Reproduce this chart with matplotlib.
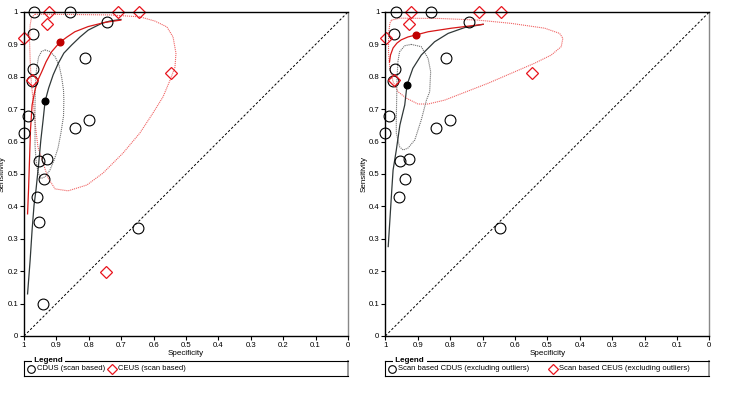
#!/usr/bin/env python3
import matplotlib
matplotlib.use('Agg')
import matplotlib.pyplot as plt

plt.rcParams['font.family'] = ['Liberation Sans', 'DejaVu Sans']

# ---- study estimates (specificity, sensitivity) ----
cdus_spec = [0.968, 0.858, 0.743, 0.972, 0.812, 0.971, 0.975, 0.988, 1.000,
             0.843, 0.800, 0.954, 0.928, 0.939, 0.959, 0.954, 0.647, 0.940]
cdus_sens = [1.000, 1.000, 0.970, 0.931, 0.857, 0.823, 0.788, 0.678, 0.626,
             0.641, 0.667, 0.540, 0.545, 0.484, 0.429, 0.351, 0.334, 0.100]
cdus_outlier = [False] * 15 + [True, False, True]

ceus_spec = [0.922, 0.711, 0.644, 0.928, 0.999, 0.974, 0.547, 0.748]
ceus_sens = [1.000, 1.000, 1.000, 0.963, 0.919, 0.790, 0.813, 0.198]
ceus_outlier = [False] * 7 + [True]

# ---- summary points ----
sum_all = {'cdus': (0.935, 0.724), 'ceus': (0.890, 0.906)}
sum_excl = {'cdus': (0.933, 0.775), 'ceus': (0.906, 0.929)}

# ---- SROC curves, all studies ----
sroc_cdus_all_spec = [0.989, 0.981, 0.975, 0.969, 0.963, 0.955, 0.948, 0.941, 0.935, 0.924,
                      0.910, 0.894, 0.877, 0.853, 0.827, 0.802, 0.760, 0.735, 0.701]
sroc_cdus_all_sens = [0.130, 0.235, 0.327, 0.404, 0.451, 0.528, 0.605, 0.667, 0.724, 0.765,
                      0.806, 0.842, 0.873, 0.898, 0.923, 0.944, 0.965, 0.972, 0.977]
sroc_ceus_all_spec = [0.989, 0.986, 0.983, 0.980, 0.975, 0.966, 0.957, 0.945, 0.932, 0.915,
                      0.890, 0.867, 0.843, 0.802, 0.750, 0.701]
sroc_ceus_all_sens = [0.377, 0.451, 0.543, 0.636, 0.713, 0.759, 0.790, 0.816, 0.846, 0.877,
                      0.906, 0.923, 0.939, 0.955, 0.968, 0.975]

# ---- 95% confidence regions, all studies ----
reg_ceus_all_spec = [0.966, 0.920, 0.827, 0.735, 0.642, 0.596, 0.559, 0.540, 0.531, 0.534,
                     0.549, 0.571, 0.602, 0.642, 0.694, 0.756, 0.806, 0.864, 0.904, 0.926,
                     0.941, 0.957, 0.965, 0.972, 0.978, 0.981, 0.983, 0.981, 0.977]
reg_ceus_all_sens = [0.993, 0.993, 0.992, 0.991, 0.985, 0.972, 0.954, 0.923, 0.873, 0.830,
                     0.790, 0.738, 0.688, 0.627, 0.565, 0.503, 0.466, 0.448, 0.454, 0.488,
                     0.534, 0.583, 0.651, 0.728, 0.790, 0.852, 0.914, 0.960, 0.983]
reg_cdus_all_spec = [0.935, 0.920, 0.904, 0.892, 0.884, 0.878, 0.877, 0.878, 0.886, 0.895,
                     0.907, 0.920, 0.935, 0.948, 0.957, 0.963, 0.966, 0.966, 0.966, 0.965,
                     0.961, 0.955, 0.946]
reg_cdus_all_sens = [0.883, 0.878, 0.862, 0.836, 0.800, 0.759, 0.728, 0.679, 0.627, 0.580,
                     0.543, 0.512, 0.491, 0.486, 0.506, 0.543, 0.590, 0.651, 0.713, 0.775,
                     0.827, 0.861, 0.878]

# ---- SROC curves, excluding outliers ----
sroc_cdus_ex_spec = [0.991, 0.980, 0.976, 0.966, 0.955, 0.940, 0.933, 0.915, 0.889, 0.848,
                     0.806, 0.755, 0.698]
sroc_cdus_ex_sens = [0.276, 0.451, 0.512, 0.574, 0.651, 0.713, 0.775, 0.826, 0.867, 0.908,
                     0.934, 0.952, 0.962]
sroc_ceus_ex_spec = [0.987, 0.984, 0.976, 0.964, 0.951, 0.930, 0.906, 0.868, 0.796, 0.714, 0.698]
sroc_ceus_ex_sens = [0.846, 0.867, 0.889, 0.904, 0.914, 0.923, 0.929, 0.939, 0.950, 0.960, 0.962]

# ---- 95% confidence regions, excluding outliers ----
reg_ceus_ex_spec = [0.981, 0.955, 0.831, 0.714, 0.612, 0.508, 0.462, 0.452, 0.457, 0.488,
                    0.539, 0.611, 0.683, 0.755, 0.817, 0.868, 0.899, 0.935, 0.961, 0.976,
                    0.986, 0.990, 0.990, 0.986]
reg_ceus_ex_sens = [0.975, 0.981, 0.980, 0.975, 0.965, 0.950, 0.934, 0.919, 0.893, 0.867,
                    0.842, 0.811, 0.780, 0.752, 0.728, 0.716, 0.716, 0.734, 0.754, 0.785,
                    0.826, 0.877, 0.929, 0.965]
reg_cdus_ex_spec = [0.920, 0.889, 0.868, 0.860, 0.863, 0.873, 0.889, 0.909, 0.930, 0.945,
                    0.956, 0.966, 0.966, 0.965, 0.964, 0.961, 0.956, 0.940]
reg_cdus_ex_sens = [0.900, 0.893, 0.857, 0.816, 0.754, 0.728, 0.667, 0.605, 0.580, 0.574,
                    0.584, 0.626, 0.667, 0.728, 0.790, 0.847, 0.877, 0.896]

ticks = [1.0, 0.9, 0.8, 0.7, 0.6, 0.5, 0.4, 0.3, 0.2, 0.1, 0.0]
tick_labels = ['1', '0.9', '0.8', '0.7', '0.6', '0.5', '0.4', '0.3', '0.2', '0.1', '0']

RED = '#e8141c'
RED_LIGHT = '#f06464'
GREY = '#707070'

W, H = 729, 401


def pix_box(x0, y0, w, h):
    return [x0 / W, 1 - (y0 + h) / H, w / W, h / H]


def closed(xs, ys):
    return list(xs) + [xs[0]], list(ys) + [ys[0]]


def draw_panel(ax, keep_outliers, sroc_cd, sroc_ce, reg_cd, reg_ce, summ):
    ax.plot([1, 0], [0, 1], color='black', lw=0.7, ls=(0, (2.5, 2)))

    x, y = closed(*reg_ce)
    ax.plot(x, y, color=RED_LIGHT, lw=0.8, ls=(0, (1, 0.8)))
    x, y = closed(*reg_cd)
    ax.plot(x, y, color=GREY, lw=0.8, ls=(0, (1, 0.8)))

    ax.plot(sroc_cd[0], sroc_cd[1], color='#303838', lw=0.9)
    ax.plot(sroc_ce[0], sroc_ce[1], color='#d81818', lw=0.9)

    cx = [s for s, o in zip(cdus_spec, cdus_outlier) if keep_outliers or not o]
    cy = [s for s, o in zip(cdus_sens, cdus_outlier) if keep_outliers or not o]
    ax.plot(cx, cy, 'o', ms=7.8, mfc='none', mec='black', mew=0.8, clip_on=False)
    dx = [s for s, o in zip(ceus_spec, ceus_outlier) if keep_outliers or not o]
    dy = [s for s, o in zip(ceus_sens, ceus_outlier) if keep_outliers or not o]
    ax.plot(dx, dy, 'D', ms=6.4, mfc='none', mec=RED, mew=0.9, clip_on=False)

    ax.plot(*summ['cdus'], 'o', ms=4.8, color='black', zorder=5)
    ax.plot(*summ['ceus'], 'o', ms=4.8, color='#c00000', zorder=5)

    ax.set_xlim(1, 0)
    ax.set_ylim(0, 1)
    ax.set_xticks(ticks)
    ax.set_xticklabels(tick_labels)
    ax.set_yticks(ticks)
    ax.set_yticklabels(tick_labels)
    ax.tick_params(direction='out', length=3, width=0.8, labelsize=5.6, pad=1.2)
    for sp in ax.spines.values():
        sp.set_linewidth(1.0)
    ax.spines['right'].set_color('#888888')
    ax.set_xlabel('Specificity', fontsize=5.8, labelpad=0.5)
    ax.set_ylabel('Sensitivity', fontsize=5.8, labelpad=1)


def draw_legend(x0, label1, label2, dx2):
    lg = fig.add_axes(pix_box(x0, 361, 324, 15))
    lg.set_xlim(0, 324)
    lg.set_ylim(0, 15)
    lg.set_xticks([])
    lg.set_yticks([])
    for sp in lg.spines.values():
        sp.set_linewidth(0.8)
    lg.spines['right'].set_color('#999999')
    lg.spines['right'].set_linewidth(1.4)
    lg.plot([6.5], [7], 'o', ms=5.5, mfc='none', mec='black', mew=0.8)
    lg.text(13, 7, label1, fontsize=5.5, va='center', ha='left')
    lg.plot([dx2], [7], 'D', ms=5.2, mfc='none', mec=RED, mew=0.9)
    lg.text(dx2 + 6.5, 7, label2, fontsize=5.5, va='center', ha='left')
    lg.text(8, 15, ' Legend ', fontsize=5.8, fontweight='bold', va='center', ha='left',
            bbox=dict(facecolor='white', edgecolor='none', pad=0.2), clip_on=False)


fig = plt.figure(figsize=(W / 100, H / 100), dpi=100)

ax1 = fig.add_axes(pix_box(24, 12, 324, 324))
draw_panel(ax1, True,
           (sroc_cdus_all_spec, sroc_cdus_all_sens), (sroc_ceus_all_spec, sroc_ceus_all_sens),
           (reg_cdus_all_spec, reg_cdus_all_sens), (reg_ceus_all_spec, reg_ceus_all_sens),
           sum_all)

ax2 = fig.add_axes(pix_box(385.3, 12, 324, 324))
draw_panel(ax2, False,
           (sroc_cdus_ex_spec, sroc_cdus_ex_sens), (sroc_ceus_ex_spec, sroc_ceus_ex_sens),
           (reg_cdus_ex_spec, reg_cdus_ex_sens), (reg_ceus_ex_spec, reg_ceus_ex_sens),
           sum_excl)

draw_legend(24, 'CDUS (scan based)', 'CEUS (scan based)', 87.5)
draw_legend(385.3, 'Scan based CDUS (excluding outliers)',
            'Scan based CEUS (excluding outliers)', 167.5)

fig.savefig('out.png', dpi=100)
